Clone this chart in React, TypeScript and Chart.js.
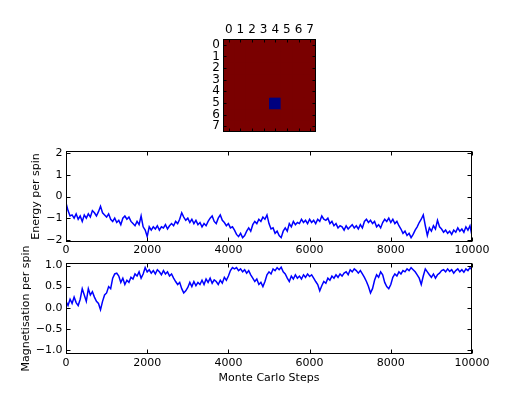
import React, { useEffect, useRef } from 'react';
import { Chart, registerables } from 'chart.js';
Chart.register(...registerables);

const STEP = 50;

const energy = [
  -0.30, -0.65, -0.90, -0.85, -1.00, -0.80, -1.05, -0.90, -1.15, -0.85,
  -1.00, -0.80, -0.95, -0.65, -0.75, -0.90, -0.70, -0.45, -0.75, -0.85,
  -0.95, -0.80, -1.05, -1.15, -1.00, -1.20, -1.10, -1.30, -1.00, -0.90,
  -1.05, -0.95, -1.15, -1.25, -1.35, -1.15, -1.30, -0.90, -1.40, -1.55,
  -1.85, -1.40, -1.55, -1.40, -1.50, -1.35, -1.55, -1.40, -1.45, -1.30,
  -1.50, -1.35, -1.25, -1.35, -1.15, -1.25, -1.05, -0.75, -0.95, -1.10,
  -1.00, -1.20, -1.05, -1.25, -1.10, -1.30, -1.20, -1.40, -1.25, -1.35,
  -1.15, -1.00, -0.90, -1.15, -1.25, -1.00, -0.85, -1.10, -1.20, -1.35,
  -1.25, -1.45, -1.40, -1.55, -1.75, -1.85, -1.70, -1.90, -1.80, -1.60,
  -1.45, -1.60, -1.30, -1.15, -1.25, -1.05, -1.15, -0.95, -1.05, -0.85,
  -1.25, -1.50, -1.45, -1.70, -1.60, -1.80, -1.90, -1.60, -1.45, -1.60,
  -1.25, -1.40, -1.15, -1.30, -1.20, -1.25, -1.05, -1.20, -1.10, -1.25,
  -1.05, -1.20, -1.10, -1.25, -1.05, -1.15, -0.90, -1.05, -1.10, -1.00,
  -1.25, -1.15, -1.35, -1.25, -1.45, -1.35, -1.40, -1.55, -1.35, -1.50,
  -1.40, -1.30, -1.45, -1.35, -1.50, -1.30, -1.45, -1.15, -1.05, -1.20,
  -1.10, -1.25, -1.15, -1.40, -1.30, -1.45, -1.20, -1.05, -1.15, -1.00,
  -1.20, -1.05, -1.25, -1.15, -1.35, -1.50, -1.70, -1.60, -1.80, -1.70,
  -1.90, -1.75, -1.55, -1.40, -1.20, -1.05, -0.85, -1.35, -1.80, -1.45,
  -1.60, -1.35, -1.50, -1.10, -1.40, -1.50, -1.65, -1.55, -1.70, -1.60,
  -1.75, -1.55, -1.65, -1.45, -1.60, -1.50, -1.65, -1.40, -1.55, -1.35,
  -1.80,
];

const magnetisation = [
  0.15, 0.05, 0.20, 0.10, 0.25, 0.12, 0.05, 0.20, 0.45, 0.30,
  0.15, 0.45, 0.30, 0.38, 0.25, 0.15, 0.10, -0.05, 0.15, 0.30,
  0.35, 0.50, 0.45, 0.70, 0.80, 0.82, 0.75, 0.60, 0.70, 0.55,
  0.65, 0.60, 0.72, 0.68, 0.80, 0.75, 0.85, 0.70, 0.80, 0.95,
  0.85, 0.90, 0.82, 0.88, 0.80, 0.90, 0.85, 0.78, 0.88, 0.80,
  0.85, 0.75, 0.80, 0.70, 0.62, 0.55, 0.60, 0.45, 0.35, 0.40,
  0.48, 0.60, 0.50, 0.62, 0.52, 0.60, 0.55, 0.65, 0.55, 0.68,
  0.60, 0.70, 0.58, 0.66, 0.62, 0.55, 0.65, 0.58, 0.72, 0.65,
  0.75, 0.88, 0.95, 0.92, 0.95, 0.88, 0.92, 0.85, 0.90, 0.82,
  0.88, 0.78, 0.70, 0.62, 0.68, 0.55, 0.60, 0.50, 0.62, 0.78,
  0.85, 0.80, 0.92, 0.88, 0.95, 0.90, 0.96, 0.85, 0.80, 0.70,
  0.62, 0.75, 0.68, 0.78, 0.70, 0.75, 0.68, 0.78, 0.72, 0.80,
  0.74, 0.78, 0.70, 0.62, 0.55, 0.40, 0.52, 0.62, 0.58, 0.70,
  0.65, 0.75, 0.70, 0.78, 0.72, 0.80, 0.75, 0.82, 0.85, 0.78,
  0.90, 0.85, 0.92, 0.88, 0.82, 0.88, 0.80, 0.72, 0.62, 0.50,
  0.35, 0.45, 0.65, 0.78, 0.72, 0.85, 0.78, 0.60, 0.50, 0.45,
  0.55, 0.72, 0.80, 0.75, 0.85, 0.80, 0.88, 0.85, 0.92, 0.88,
  0.95, 0.90, 0.85, 0.78, 0.70, 0.55, 0.75, 0.92, 0.85, 0.78,
  0.72, 0.80, 0.70, 0.78, 0.82, 0.88, 0.90, 0.85, 0.92, 0.86,
  0.90, 0.82, 0.88, 0.92, 0.85, 0.90, 0.84, 0.92, 0.88, 0.95,
  0.90,
];

const lattice = [
  [1, 1, 1, 1, 1, 1, 1, 1],
  [1, 1, 1, 1, 1, 1, 1, 1],
  [1, 1, 1, 1, 1, 1, 1, 1],
  [1, 1, 1, 1, 1, 1, 1, 1],
  [1, 1, 1, 1, 1, 1, 1, 1],
  [1, 1, 1, 1, -1, 1, 1, 1],
  [1, 1, 1, 1, 1, 1, 1, 1],
  [1, 1, 1, 1, 1, 1, 1, 1],
];
const latticeLabels = ['0', '1', '2', '3', '4', '5', '6', '7'];
const stepTicks = [0, 2000, 4000, 6000, 8000, 10000];
const energyTicks = [-2, -1, 0, 1, 2];
const magTicks = [-1, -0.5, 0, 0.5, 1];

const FONT = 'DejaVu Sans';
const SPIN_UP = '#7a0000';
const SPIN_DOWN = '#00007f';
const LINE = '#0000ff';
const minus = (s: string) => s.replace('-', '\u2212');

const frameTicks = {
  id: 'frameTicks',
  afterDraw(chart: any, _args: any, opts: any) {
    const { ctx, chartArea: a } = chart;
    const len = opts && opts.len ? opts.len : 4;
    const L = Math.round(a.left) + 0.5;
    const R = Math.round(a.right) - 0.5;
    const T = Math.round(a.top) + 0.5;
    const B = Math.round(a.bottom) - 0.5;
    ctx.save();
    ctx.strokeStyle = '#000';
    ctx.lineWidth = 1;
    ctx.beginPath();
    const xs = chart.scales.x;
    xs.ticks.forEach((_t: any, i: number) => {
      const p = Math.round(xs.getPixelForTick(i)) + 0.5;
      ctx.moveTo(p, B); ctx.lineTo(p, B - len);
      ctx.moveTo(p, T); ctx.lineTo(p, T + len);
    });
    const ys = chart.scales.y;
    ys.ticks.forEach((_t: any, i: number) => {
      const p = Math.round(ys.getPixelForTick(i)) + 0.5;
      ctx.moveTo(L, p); ctx.lineTo(L + len, p);
      ctx.moveTo(R, p); ctx.lineTo(R - len, p);
    });
    ctx.stroke();
    ctx.strokeRect(L, T, R - L, B - T);
    ctx.restore();
  },
};

const tickFont = { family: FONT, size: 11 };
const heatFont = { family: FONT, size: 12 };

function fixX(h: number) {
  return (s: any) => { s.height = h; s.paddingLeft = 0; s.paddingRight = 0; s.paddingTop = 0; s.paddingBottom = 0; };
}
function fixY(w: number) {
  return (s: any) => { s.width = w; s.paddingLeft = 0; s.paddingRight = 0; s.paddingTop = 0; s.paddingBottom = 0; };
}
function setTicks(values: number[]) {
  return (s: any) => { s.ticks = values.map((v) => ({ value: v })); };
}

function lineConfig(values: number[], o: any): any {
  return {
    type: 'line',
    data: {
      datasets: [{
        data: values.map((v, i) => ({ x: i * STEP, y: v })),
        borderColor: LINE,
        borderWidth: 1.5,
        pointRadius: 0,
        tension: 0,
        fill: false,
      }],
    },
    plugins: [frameTicks],
    options: {
      animation: false,
      responsive: false,
      layout: { padding: o.padding },
      plugins: { legend: { display: false }, tooltip: { enabled: false }, frameTicks: { len: 4 } },
      scales: {
        x: {
          type: 'linear', min: 0, max: 10000,
          grid: { display: false, drawTicks: false }, border: { display: false },
          afterBuildTicks: setTicks(stepTicks),
          afterFit: fixX(o.xH),
          ticks: { color: '#000', font: tickFont, padding: o.xPad, maxRotation: 0, autoSkip: false, callback: (v: any) => String(v) },
          title: o.xTitle ? { display: true, text: o.xTitle, color: '#000', font: tickFont, padding: { top: 0, bottom: 0 } } : { display: false },
        },
        y: {
          type: 'linear', min: o.yMin, max: o.yMax,
          grid: { display: false, drawTicks: false }, border: { display: false },
          afterBuildTicks: setTicks(o.yTicks),
          afterFit: fixY(o.yW),
          ticks: { color: '#000', font: tickFont, padding: 3.5, autoSkip: false, callback: o.yFmt },
          title: { display: true, text: o.yTitle, color: '#000', font: tickFont, padding: { top: o.yTitlePad, bottom: 0 } },
        },
      },
    },
  };
}

function heatConfig(): any {
  return {
    type: 'bar',
    data: {
      labels: latticeLabels,
      datasets: lattice.map((row, r) => ({
        label: 'row ' + r,
        data: row.map(() => 1),
        backgroundColor: row.map((v) => (v > 0 ? SPIN_UP : SPIN_DOWN)),
        borderWidth: 0,
        inflateAmount: 0.5,
        barPercentage: 1,
        categoryPercentage: 1,
      })),
    },
    plugins: [frameTicks],
    options: {
      animation: false,
      responsive: false,
      layout: { padding: { left: 193, right: 209, top: 19, bottom: 262 } },
      plugins: { legend: { display: false }, tooltip: { enabled: false }, frameTicks: { len: 3 } },
      scales: {
        x: {
          position: 'top', stacked: true,
          grid: { display: false, drawTicks: false }, border: { display: false },
          afterFit: fixX(20),
          ticks: { color: '#000', font: heatFont, padding: 2, maxRotation: 0, autoSkip: false },
        },
        y: {
          type: 'linear', stacked: true, reverse: true, min: 0, max: 8,
          grid: { display: false, drawTicks: false }, border: { display: false },
          afterBuildTicks: (s: any) => { s.ticks = latticeLabels.map((_l, i) => ({ value: i + 0.5 })); },
          afterFit: fixY(30),
          ticks: { color: '#000', font: heatFont, padding: 3, autoSkip: false, callback: (v: any) => latticeLabels[Math.floor(v)] },
        },
      },
    },
  };
}

const canvasStyle: React.CSSProperties = { position: 'absolute', left: 0, top: 0 };

export default function App() {
  const heatRef = useRef<HTMLCanvasElement>(null);
  const eRef = useRef<HTMLCanvasElement>(null);
  const mRef = useRef<HTMLCanvasElement>(null);

  useEffect(() => {
    const charts: Chart[] = [];
    if (heatRef.current) charts.push(new Chart(heatRef.current, heatConfig()));
    if (eRef.current) charts.push(new Chart(eRef.current, lineConfig(energy, {
      padding: { left: 26, right: 53, top: 151, bottom: 132 },
      xH: 20, xPad: 2, yW: 40, yMin: -2.1, yMax: 2.1, yTicks: energyTicks,
      yFmt: (v: any) => minus(String(v)), yTitle: 'Energy per spin', yTitlePad: 4,
    })));
    if (mRef.current) charts.push(new Chart(mRef.current, lineConfig(magnetisation, {
      padding: { left: 16, right: 53, top: 263, bottom: 9 },
      xH: 31, xPad: 3, yW: 50, yMin: -1.1, yMax: 1.06, yTicks: magTicks,
      yFmt: (v: any) => minus(Number(v).toFixed(1)), yTitle: 'Magnetisation per spin', yTitlePad: 3.3,
      xTitle: 'Monte Carlo Steps',
    })));
    return () => charts.forEach((c) => c.destroy());
  }, []);

  return (
    <div style={{ position: 'fixed', left: 0, top: 0, width: 525, height: 394, background: '#fff' }}>
      <canvas ref={heatRef} width={525} height={394} style={canvasStyle} />
      <canvas ref={eRef} width={525} height={394} style={canvasStyle} />
      <canvas ref={mRef} width={525} height={394} style={canvasStyle} />
    </div>
  );
}
